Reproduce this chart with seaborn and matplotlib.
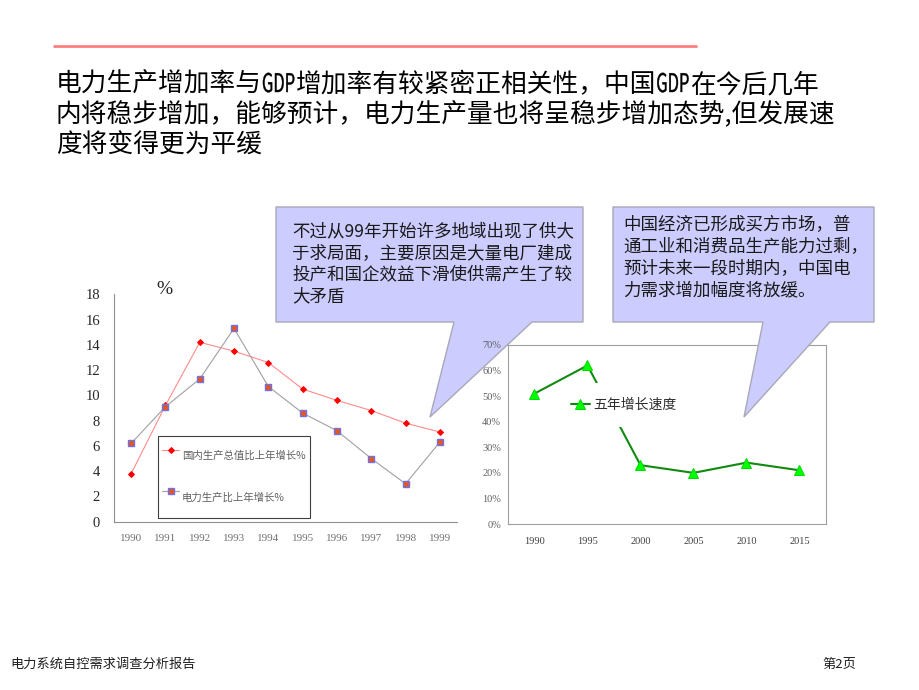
import re
import numpy as np
import matplotlib
matplotlib.use('Agg')
import matplotlib.pyplot as plt
from matplotlib.patches import Polygon, PathPatch
from matplotlib.textpath import TextPath
from matplotlib.font_manager import FontProperties
from matplotlib.transforms import Affine2D
from matplotlib.ticker import PercentFormatter
import seaborn as sns

# ---- data ----
years = ['1990', '1991', '1992', '1993', '1994', '1995', '1996', '1997', '1998', '1999']
gdp_growth = [3.8, 9.2, 14.2, 13.5, 12.6, 10.5, 9.6, 8.8, 7.8, 7.1]
power_growth = [6.2, 9.1, 11.3, 15.3, 10.7, 8.6, 7.2, 5.0, 3.0, 6.3]
gdp_label = '国内生产总值比上年增长%'
power_label = '电力生产比上年增长%'

five_years = ['1990', '1995', '2000', '2005', '2010', '2015']
five_year_rate = [0.51, 0.62, 0.23, 0.20, 0.24, 0.21]
five_label = '五年增长速度'

title_lines = ['电力生产增加率与GDP增加率有较紧密正相关性，中国GDP在今后几年',
               '内将稳步增加，能够预计，电力生产量也将呈稳步增加态势,但发展速',
               '度将变得更为平缓']
note1_lines = ['不过从99年开始许多地域出现了供大',
               '于求局面，主要原因是大量电厂建成',
               '投产和国企效益下滑使供需产生了较',
               '大矛盾']
note2_lines = ['中国经济已形成买方市场，普',
               '通工业和消费品生产能力过剩，',
               '预计未来一段时期内，中国电',
               '力需求增加幅度将放缓。']
footer_left = '电力系统自控需求调查分析报告'
footer_right = '第2页'

sns.set_style('white')
plt.rcParams['font.family'] = ['Noto Sans CJK SC', 'DejaVu Sans']
SERIF = ['Liberation Serif', 'DejaVu Serif']

W, H = 920, 690
fig = plt.figure(figsize=(W / 100, H / 100), dpi=100)
renderer = fig.canvas.get_renderer()


def fig_box(x0, y0, x1, y1):
    """pixel box (top-left origin) -> figure fraction rect"""
    return [x0 / W, 1 - y1 / H, (x1 - x0) / W, (y1 - y0) / H]


def pixel_axes(z):
    a = fig.add_axes([0, 0, 1, 1], zorder=z)
    a.set_xlim(0, W)
    a.set_ylim(H, 0)
    a.axis('off')
    a.patch.set_alpha(0)
    return a


def condensed_line(a, x, y, s, size_pt, squeeze=0.64):
    """write s on baseline y; runs of latin capitals are drawn narrow like the slide font"""
    size_px = size_pt * 100 / 72
    prop = FontProperties(family='Noto Sans CJK SC')
    for piece in re.split(r'([A-Z]+)', s):
        if not piece:
            continue
        if re.fullmatch(r'[A-Z]+', piece):
            tp = TextPath((0, 0), piece, size=size_px, prop=prop)
            adv = tp.get_extents().x1
            tr = Affine2D().scale(squeeze, -1).translate(x, y)
            a.add_patch(PathPatch(tr.transform_path(tp), facecolor='black',
                                  edgecolor='black', linewidth=0.3))
            x += adv * squeeze + size_px * 0.06
        else:
            t = a.text(x, y, piece, fontsize=size_pt, va='baseline', ha='left',
                       color='black')
            x += t.get_window_extent(renderer).width


# ---- left chart ----
ax1 = fig.add_axes(fig_box(114, 294.3, 457, 521.7), zorder=0)
pos = np.arange(len(years))
sns.lineplot(x=pos, y=gdp_growth, ax=ax1, color='#ff8c8c', linewidth=0.8,
             marker='D', markersize=3, markerfacecolor='#ff0000',
             markeredgecolor='#ff0000', label=gdp_label)
sns.lineplot(x=pos, y=power_growth, ax=ax1, color='#a0a0a0', linewidth=0.8,
             marker='s', markersize=4.5, markerfacecolor='#e8561e',
             markeredgecolor='#7070e8', markeredgewidth=1.0, label=power_label)
ax1.set_xlim(-0.5, len(years) - 0.5)
ax1.set_ylim(0, 18)
ax1.set_yticks(np.arange(0, 19, 2))
ax1.set_xticks(pos)
ax1.set_xticklabels(years, family=SERIF, fontsize=8, color='#707070')
ax1.set_xticks(np.arange(-0.5, len(years)), minor=True)
ax1.tick_params(axis='x', which='major', length=0, pad=9)
ax1.tick_params(axis='x', which='minor', length=4, direction='out', color='#808080')
ax1.tick_params(axis='y', length=4, direction='out', color='#808080', pad=6)
for t in ax1.get_yticklabels():
    t.set_family(SERIF)
    t.set_fontsize(10.5)
for s in ['top', 'right']:
    ax1.spines[s].set_visible(False)
for s in ['left', 'bottom']:
    ax1.spines[s].set_color('#909090')
    ax1.spines[s].set_linewidth(0.8)
ax1.set_xlabel('')
ax1.set_ylabel('')
leg1 = ax1.legend(loc='upper left', bbox_to_anchor=(158 / W, 1 - 436 / H),
                  bbox_transform=fig.transFigure, borderaxespad=0,
                  fontsize=7.5, frameon=True, fancybox=False, framealpha=1,
                  edgecolor='#404040', handlelength=1.6, handletextpad=0.3,
                  handleheight=4.4, labelspacing=0.9, borderpad=0.4)
leg1.get_frame().set_linewidth(0.8)
for t in leg1.get_texts():
    t.set_color('#606060')

# ---- callout 1 sits under the right chart's labels ----
ov_low = pixel_axes(1)
callout1 = [(276, 207), (583, 207), (583, 322), (532, 322), (430, 417), (454, 322), (276, 322)]
ov_low.add_patch(Polygon(callout1, closed=True, facecolor='#ccccff',
                         edgecolor='#a8a8b8', linewidth=1.0))
for i, line in enumerate(note1_lines):
    ov_low.text(292, 231 + i * 21.7, line, fontsize=12.6, va='center', ha='left',
                color='#1a1a1a')

# ---- right chart ----
ax2 = fig.add_axes(fig_box(508, 345, 826, 524), zorder=2)
ax2.patch.set_alpha(0)
pos5 = np.arange(len(five_years))
sns.lineplot(x=pos5, y=five_year_rate, ax=ax2, color='#108a10', linewidth=1.5,
             marker='^', markersize=6.5, markerfacecolor='#00ff00',
             markeredgecolor='#00dd00', label=five_label)
ax2.set_xlim(-0.5, len(five_years) - 0.5)
ax2.set_ylim(0, 0.7)
ax2.set_yticks(np.arange(0, 0.71, 0.1))
ax2.yaxis.set_major_formatter(PercentFormatter(xmax=1, decimals=0))
ax2.set_xticks(pos5)
ax2.set_xticklabels(five_years, family=SERIF, fontsize=7.5, color='#404040')
ax2.set_xticks(np.arange(-0.5, len(five_years)), minor=True)
ax2.tick_params(axis='x', which='major', length=0, pad=9)
ax2.tick_params(axis='x', which='minor', length=3, direction='in', color='#808080')
ax2.tick_params(axis='y', length=0, pad=5)
for t in ax2.get_yticklabels():
    t.set_family(SERIF)
    t.set_fontsize(7.5)
    t.set_color('#606060')
for s in ax2.spines.values():
    s.set_color('#a0a0a0')
    s.set_linewidth(0.8)
ax2.set_xlabel('')
ax2.set_ylabel('')
leg2 = ax2.legend(loc='center left', bbox_to_anchor=(556 / W, 1 - 405 / H),
                  bbox_transform=fig.transFigure, borderaxespad=0,
                  fontsize=10, frameon=True, framealpha=1, facecolor='white',
                  edgecolor='none', handlelength=1.4, handletextpad=0.2,
                  borderpad=1.05)
for t in leg2.get_texts():
    t.set_color('#303030')

# ---- overlay: title, callout 2, footer ----
ov = pixel_axes(10)
ov.plot([53, 697], [45.5, 45.5], color='#ff7f7f', linewidth=2, solid_capstyle='butt')
for i, line in enumerate(title_lines):
    condensed_line(ov, 56, 92 + i * 30.5, line, 18.5)

ov.text(156, 290, '%', family=SERIF, fontsize=14, va='center', ha='left')

callout2 = [(613, 207), (874, 207), (874, 322), (830, 322), (744, 417), (763, 322), (613, 322)]
ov.add_patch(Polygon(callout2, closed=True, facecolor='#ccccff', edgecolor='#a8a8b8',
                     linewidth=1.0))
for i, line in enumerate(note2_lines):
    ov.text(623, 225 + i * 21.7, line, fontsize=12.6, va='center', ha='left', color='#1a1a1a')

ov.text(10, 664, footer_left, fontsize=9.5, va='center', ha='left', color='#202020')
ov.text(822, 664, footer_right, fontsize=9.5, va='center', ha='left', color='#202020')

fig.savefig('out.png', dpi=100)
